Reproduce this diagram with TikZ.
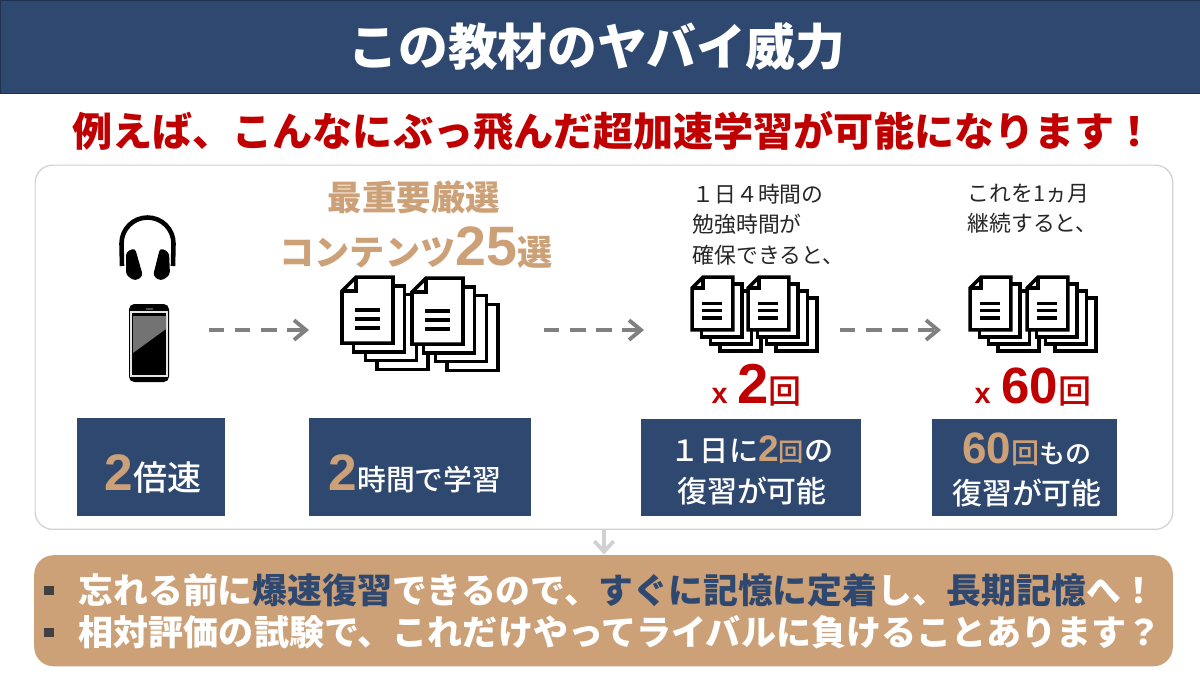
\documentclass[tikz,border=0pt]{standalone}
\usepackage{fontspec}
\setmainfont{Noto Sans CJK JP}
\newfontfamily\jpmedium{Noto Sans CJK JP Medium}
\newfontfamily\latinfont{Liberation Sans}
\usetikzlibrary{arrows.meta}
\definecolor{navy}{RGB}{47,72,112}
\definecolor{tan}{RGB}{205,161,120}
\definecolor{darkred}{RGB}{192,0,0}
\definecolor{bodygray}{RGB}{38,38,38}
\newcommand{\bignum}[2]{{\latinfont\fontsize{#1}{#1}\selectfont\bfseries #2}}
\newcommand{\jpsize}[1]{\fontsize{#1}{#1}\selectfont}
\tikzstyle{bluebox} = [draw=none, fill=navy, inner sep=0pt, anchor=north west]
\tikzstyle{boxtext} = [text=white, align=center, inner sep=0pt, font=\jpmedium]
\tikzstyle{flowarrow} = [draw=black!50, line width=1.1pt, dash pattern=on 4.4pt off 3pt, -{Straight Barb[length=3.4pt,width=5.6pt]}]
\tikzstyle{note} = [text=bodygray, align=left, anchor=north west, inner sep=0pt, font=\fontsize{6.2}{8.6}\selectfont]
\tikzstyle{timestext} = [text=darkred, anchor=base west, inner sep=0pt, font=\jpmedium]
\tikzset{docstack/.pic={
	\foreach \i in {3,2,1} {
		\draw[fill=white,line width=1pt] (11.7*\i,8.8*\i) rectangle ++(51,66);
	}
	\draw[fill=white,line width=1pt,line join=miter] (14,0) -- (51,0) -- (51,66) -- (0,66) -- (0,14) -- cycle;
	\draw[line width=1pt] (14,0) -- (14,14) -- (0,14);
	\foreach \y in {33,42,51} {
		\draw[line width=1pt] (13,\y) -- (38,\y);
	}
}}
\begin{document}
\begin{tikzpicture}[x=0.01cm,y=-0.01cm]
	\useasboundingbox (0,0) rectangle (1200,675);
	% header
	\node[draw=navy!70!black,fill=navy,minimum width=12cm,minimum height=0.93cm,anchor=north west,inner sep=0pt] (header) at (0,0) {};
	\node[text=white,font=\fontsize{14.15}{16}\selectfont\bfseries] (title) at (597,47) {この教材のヤバイ威力};
	\node[text=darkred,font=\fontsize{11.4}{12}\selectfont\bfseries] (lead) at (613.5,131) {例えば、こんなにぶっ飛んだ超加速学習が可能になります！};
	% panels
	\node[draw=black!18,line width=0.35pt,fill=white,rounded corners=5pt,minimum width=11.37cm,minimum height=3.64cm,anchor=north west,inner sep=0pt] (panel) at (34.5,164.5) {};
	\node[fill=tan,rounded corners=5.5pt,minimum width=11.38cm,minimum height=1.11cm,anchor=north west,inner sep=0pt] (result) at (33.5,554.5) {};
	\draw[black!18,line width=1.1pt,-{Straight Barb[length=3pt,width=5.5pt]}] (panel.south -| 604,0) -- (result.north -| 604,0);
	% headphones
	\draw[line width=1.3pt] (122,266) -- (121.5,243.5) arc[start angle=180,end angle=360,radius=26] -- (173,266);
	\fill[rounded corners=1pt] (126,252) -- (135,248) -- (143,276) -- (135,281) -- (126,275) -- cycle;
	\fill[rounded corners=1pt] (169,252) -- (160,248) -- (153,276) -- (161,281) -- (170,275) -- cycle;
	% phone
	\fill[rounded corners=1.5pt] (129,304) rectangle (169,382);
	\draw[black!10,line width=0.4pt] (131,312) rectangle (167,376);
	\fill[black!55] (133,316) -- (166,316) -- (166,329) -- (133,353) -- cycle;
	\fill[black!70] (146,308) rectangle (153,310);
	% document stacks
	\pic at (342,277) {docstack};
	\pic at (412,278) {docstack};
	\pic[scale=0.8] at (692,277) {docstack};
	\pic[scale=0.8] at (748,277) {docstack};
	\pic[scale=0.8] at (970,277) {docstack};
	\pic[scale=0.8] at (1027,277) {docstack};
	% arrows
	\coordinate (phoneEnd) at (209,330);
	\coordinate (docsStart) at (309,330);
	\coordinate (docsEnd) at (544,330);
	\coordinate (dayStart) at (644,330);
	\coordinate (dayEnd) at (840,330);
	\coordinate (monthStart) at (941,330);
	\path[flowarrow] (phoneEnd) -- (docsStart);
	\path[flowarrow] (docsEnd) -- (dayStart);
	\path[flowarrow] (dayEnd) -- (monthStart);
	% labels above the stacks
	\node[text=tan,font=\fontsize{9.8}{12}\selectfont\bfseries] (picked) at (414,197) {最重要厳選};
	\node[text=tan,font=\fontsize{10}{12}\selectfont\bfseries] (contents) at (416,248) {コンテンツ\bignum{15.8}{25}選};
	\node[note] (dayNote) at (692,183.5) {１日４時間の\\勉強時間が\\確保できると、};
	\node[note] (monthNote) at (967,183.5) {これを1ヵ月\\継続すると、};
	\node[timestext] (timesTwo) at (711,403) {\bignum{8.2}{x}\hspace{2.8pt}\bignum{16}{2}\jpsize{9.4}回};
	\node[timestext] (timesSixty) at (974,403) {\bignum{8.2}{x}\hspace{3pt}\bignum{14.5}{60}\jpsize{9.4}回};
	% blue boxes
	\node[bluebox,minimum width=1.48cm,minimum height=0.98cm] (boxSpeed) at (76,417) {};
	\node[bluebox,minimum width=2.22cm,minimum height=0.98cm] (boxHours) at (308,417) {};
	\node[bluebox,minimum width=2.2cm,minimum height=0.97cm] (boxDay) at (640,418) {};
	\node[bluebox,minimum width=1.85cm,minimum height=0.97cm] (boxMonth) at (931,418) {};
	\node[boxtext,anchor=base west,font=\jpmedium\jpsize{9.7}] (textSpeed) at (104,490) {\textcolor{tan}{\bignum{14.6}{2}}倍速};
	\node[boxtext,anchor=base west,font=\jpmedium\jpsize{8.2}] (textHours) at (328,490) {\textcolor{tan}{\bignum{14.6}{2}}時間で学習};
	\node[boxtext,font=\jpmedium\fontsize{8.5}{11.7}\selectfont] (textDay) at (752,470) {\jpsize{8.3}１日に\textcolor{tan}{\bignum{10.5}{2}\jpsize{7.2}回}の\\復習が可能};
	\node[boxtext,font=\jpmedium\fontsize{8.5}{11.7}\selectfont] (textMonth) at (1027,470) {\textcolor{tan}{\bignum{12.5}{60}\jpsize{8}回}\jpsize{7.4}もの\\復習が可能};
	% result lines
	\node[fill=black!75,minimum size=0.09cm,inner sep=0pt] (bulletOne) at (49,590) {};
	\node[fill=black!75,minimum size=0.09cm,inner sep=0pt] (bulletTwo) at (49,632) {};
	\node[text=white,font=\fontsize{9.9}{12}\selectfont\bfseries,anchor=west,inner sep=0pt] (lineOne) at (78,590) {忘れる前に\textcolor{navy}{爆速復習}できるので、\textcolor{navy}{すぐに記憶に定着}し、\textcolor{navy}{長期記憶}へ！};
	\node[text=white,font=\fontsize{9.97}{12}\selectfont\bfseries,anchor=west,inner sep=0pt] (lineTwo) at (78,632) {相対評価の試験で、これだけやってライバルに負けることあります？};
\end{tikzpicture}
\end{document}
